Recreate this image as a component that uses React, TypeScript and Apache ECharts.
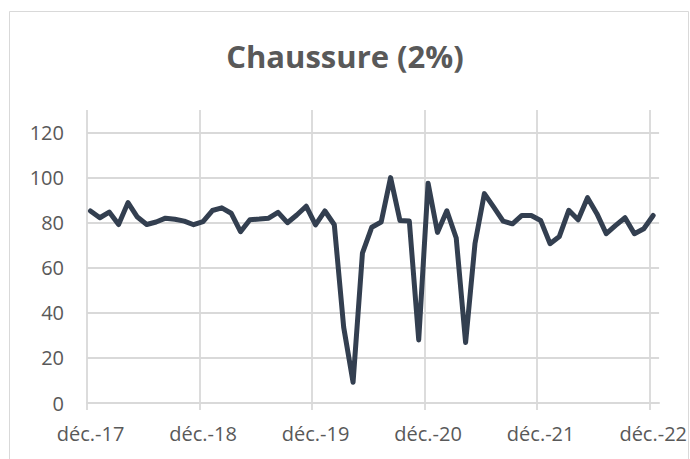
import React, { useEffect, useRef } from "react";
import * as echarts from "echarts";

const title = "Chaussure (2%)";
const yearLabels = ["déc.-17", "déc.-18", "déc.-19", "déc.-20", "déc.-21", "déc.-22"];
const yTicks = [0, 20, 40, 60, 80, 100, 120];
// Monthly values, déc. 2017 → déc. 2022
const values = [
  85.2, 82.2, 84.7, 79.2, 88.9, 82.5, 79.2, 80.3, 82, 81.5, 80.7, 79.1,
  80.5, 85.4, 86.6, 84.2, 76, 81.3, 81.6, 82, 84.6, 80, 83.4, 87.3,
  79, 85.2, 79.1, 33.6, 9.2, 66.5, 78, 80.3, 100, 81, 80.7, 28,
  97.5, 75.7, 85.3, 73.2, 26.8, 70.7, 92.9, 86.9, 80.7, 79.5, 83.2, 83.2,
  81, 70.7, 73.9, 85.5, 81.3, 91.1, 84, 75.1, 78.8, 82.2, 75.1, 77.3,
  83.2,
];

const MONTH_OFFSET = 0.37;
const GRID = "#d9d9d9";
const TEXT = "#595959";

export default function App() {
  const ref = useRef<HTMLDivElement>(null);
  useEffect(() => {
    if (!ref.current) return;
    const chart = echarts.init(ref.current, undefined, { renderer: "svg" });
    const xTickValues = yearLabels.map((_, i) => i * 12);
    chart.setOption({
      animation: false,
      title: {
        text: title,
        left: "center",
        top: 35,
        textStyle: {
          fontFamily: "Open Sans",
          fontWeight: "bold",
          fontSize: 31,
          color: TEXT,
        },
      },
      graphic: [
        {
          type: "rect",
          shape: { x: 9.5, y: 11.5, width: 679, height: 470 },
          style: { fill: "none", stroke: GRID, lineWidth: 1 },
          silent: true,
        },
      ],
      grid: { left: 87, right: 29, top: 110, bottom: 56 },
      xAxis: {
        type: "value",
        min: 0,
        max: 61,
        interval: 12,
        axisLine: { show: true, lineStyle: { color: GRID, width: 1.8 } },
        axisTick: {
          show: true,
          length: 7,
          customValues: xTickValues,
          lineStyle: { color: GRID, width: 1.8 },
        },
        axisLabel: {
          customValues: xTickValues,
          margin: 20,
          padding: [0, 0, 0, 7],
          fontFamily: "Open Sans",
          fontSize: 20,
          color: TEXT,
          formatter: (v: number) => (v % 12 === 0 ? yearLabels[v / 12] ?? "" : ""),
        },
        splitLine: {
          show: true,
          lineStyle: {
            color: [GRID, GRID, GRID, GRID, GRID, GRID, "rgba(0,0,0,0)"],
            width: 1.8,
          },
        },
      },
      yAxis: {
        type: "value",
        min: 0,
        max: 130,
        interval: 20,
        axisLine: { show: false },
        axisTick: { show: false },
        axisLabel: {
          customValues: yTicks,
          margin: 23,
          fontFamily: "Open Sans",
          fontSize: 20,
          color: TEXT,
          formatter: (v: number) => (yTicks.includes(v) ? String(v) : ""),
        },
        splitLine: {
          show: true,
          lineStyle: {
            color: [GRID, GRID, GRID, GRID, GRID, GRID, GRID, "rgba(0,0,0,0)"],
            width: 1.8,
          },
        },
      },
      series: [
        {
          type: "line",
          data: values.map((v, i) => [i + MONTH_OFFSET, v]),
          showSymbol: false,
          symbol: "none",
          lineStyle: { color: "#333f50", width: 5, join: "round", cap: "round" },
          itemStyle: { color: "#333f50" },
        },
      ],
    });
    return () => chart.dispose();
  }, []);
  return (
    <div
      ref={ref}
      style={{ position: "absolute", left: 0, top: 0, width: 690, height: 459, background: "#fff" }}
    />
  );
}
